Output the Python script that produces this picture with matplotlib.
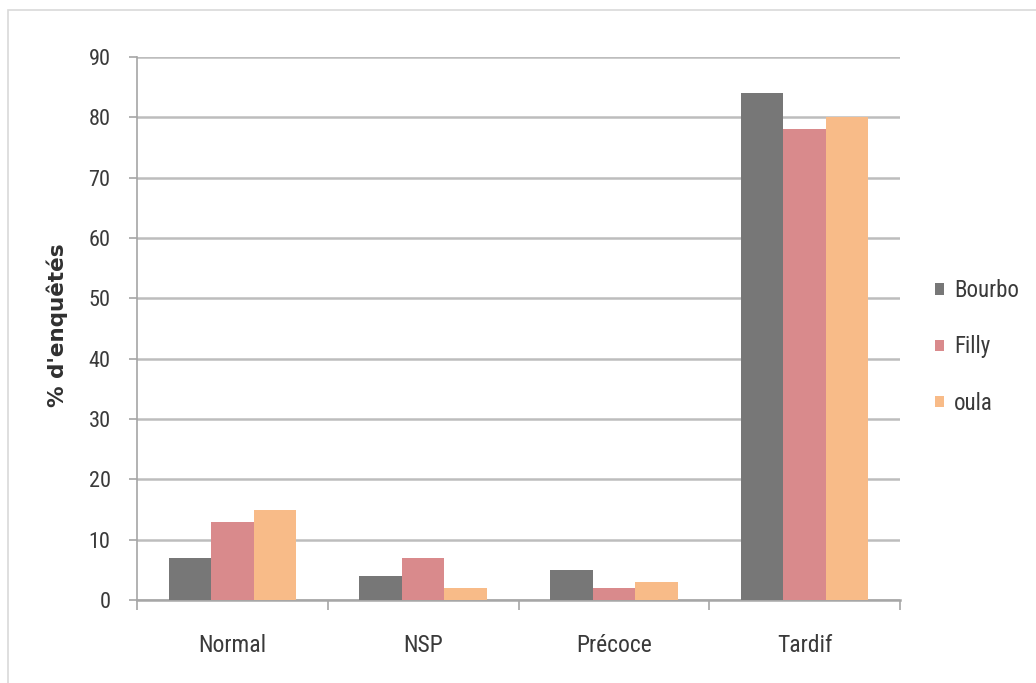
import matplotlib
matplotlib.use("Agg")
import matplotlib.pyplot as plt
import numpy as np
from matplotlib.patches import Rectangle

categories = ["Normal", "NSP", "Précoce", "Tardif"]
series_names = ["Bourbo", "Filly", "oula"]
bourbo = [7, 4, 5, 84]
filly = [13, 7, 2, 78]
oula = [15, 2, 3, 80]
y_ticks = [0, 10, 20, 30, 40, 50, 60, 70, 80, 90]
y_label = "% d'enquêtés"

colors = ["#777777", "#d98a8c", "#f8bb88"]
font = ["Roboto Condensed", "Liberation Sans Narrow", "Liberation Sans", "DejaVu Sans"]
plt.rcParams["font.family"] = font

fig = plt.figure(figsize=(10.36, 6.83), dpi=100)
# light outer frame of the chart area
fig.patches.append(Rectangle((8 / 1036, -0.01), 1.2, 1 - 10 / 683 + 0.01,
                             transform=fig.transFigure, fill=False,
                             edgecolor="#d9d9d9", linewidth=1.2))

ax = fig.add_axes([137 / 1036, 1 - 600 / 683, (900 - 137) / 1036, (600 - 57) / 683])

x = np.arange(len(categories))
w = 0.223
for i, (vals, name) in enumerate(zip([bourbo, filly, oula], series_names)):
    ax.bar(x + (i - 1) * w, vals, width=w, color=colors[i], label=name, zorder=3)

ax.set_xlim(-0.5, len(categories) - 0.5)
ax.set_ylim(0, 90)
ax.set_yticks(y_ticks)
ax.set_yticklabels([str(v) for v in y_ticks], fontsize=16, color="#3a3a3a")
ax.set_xticks(x)
ax.set_xticklabels(categories, fontsize=17, color="#3a3a3a")
ax.tick_params(axis="x", length=0, pad=24.5)
ax.tick_params(axis="y", length=6, width=1.2, color="#a6a6a6", pad=13)

# category boundary ticks below the axis
ax.set_xticks(np.arange(-0.5, len(categories)), minor=True)
ax.tick_params(axis="x", which="minor", length=7, width=1.2, color="#a6a6a6")

ax.grid(axis="y", color="#bdbdbd", linewidth=1.8, zorder=0)
for s in ["top", "right"]:
    ax.spines[s].set_visible(False)
ax.spines["left"].set_color("#a6a6a6")
ax.spines["left"].set_linewidth(1.2)
ax.spines["bottom"].set_color("#a6a6a6")
ax.spines["bottom"].set_linewidth(1.8)

ax.set_ylabel(y_label, fontsize=15.5, fontweight="bold", color="#303030",
              family=["DejaVu Sans"])
ax.yaxis.set_label_coords(-0.090, 0.506)

leg = ax.legend(loc="center left", bbox_to_anchor=(1.034, 0.466), frameon=False,
                fontsize=16.5, handlelength=0.38, handleheight=0.38,
                handletextpad=0.45, labelspacing=1.45, borderaxespad=0)
for t in leg.get_texts():
    t.set_color("#3a3a3a")

fig.savefig("out.png", dpi=100, facecolor="white")
